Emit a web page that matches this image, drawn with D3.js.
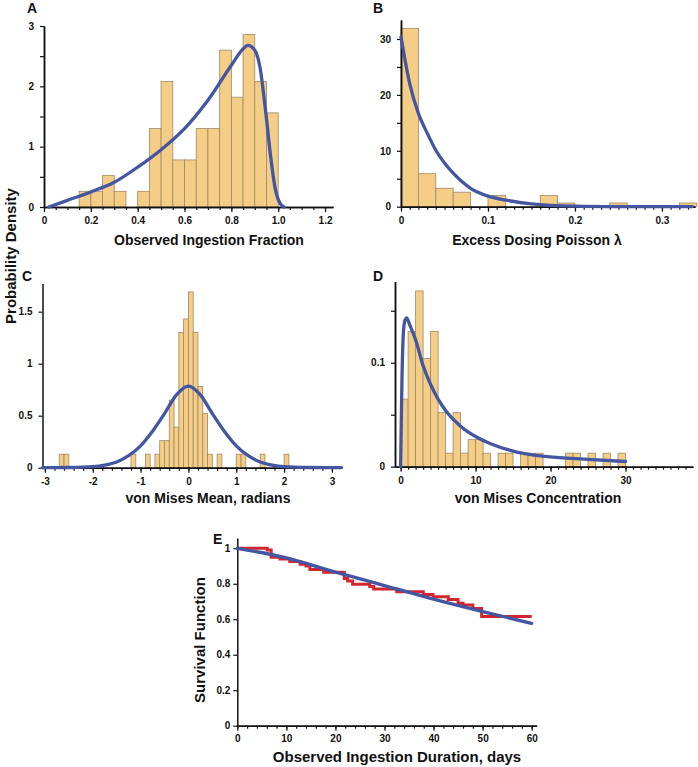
<!DOCTYPE html>
<html>
<head>
<meta charset="utf-8">
<script src="https://cdn.jsdelivr.net/npm/d3@7"></script>
<style>
    body { margin: 0; background: #fff; }
    svg text { font-family: "Liberation Sans", Arial, sans-serif; font-weight: bold; fill: #111; }
</style>
</head>
<body>
<div id="chart"></div>
<script>
// A - observed ingestion fraction (bin width 0.05)
var fracBinStart = [0.15, 0.2, 0.25, 0.3, 0.4, 0.45, 0.5, 0.55, 0.6, 0.65, 0.7, 0.75, 0.8, 0.85, 0.9, 0.95];
var fracDensity = [0.26, 0.26, 0.52, 0.26, 0.26, 1.3, 2.08, 0.78, 0.78, 1.3, 1.3, 2.6, 1.82, 2.86, 2.08, 1.56];
var fracFitX = [0.02, 0.1, 0.2, 0.3, 0.4, 0.5, 0.6, 0.7, 0.8, 0.85, 0.87, 0.9, 0.922, 0.946, 0.968, 0.986, 1.008, 1.025];
var fracFitY = [0, 0.11, 0.25, 0.41, 0.66, 0.95, 1.3, 1.77, 2.35, 2.62, 2.68, 2.6, 2.32, 1.6, 0.83, 0.33, 0.06, 0];

// B - excess dosing poisson lambda (bin width 0.02)
var lamBinStart = [0, 0.02, 0.04, 0.06, 0.1, 0.16, 0.18, 0.24, 0.32];
var lamDensity = [31.9, 5.9, 3.3, 2.6, 2.0, 2.0, 0.66, 0.66, 0.66];
var lamFitX = [0, 0.01, 0.02, 0.03, 0.04, 0.05, 0.06, 0.08, 0.1, 0.12, 0.15, 0.2, 0.25, 0.335];
var lamFitY = [30.4, 22, 16.7, 13.2, 10.1, 7.8, 6.0, 3.3, 1.9, 1.2, 0.5, 0.1, 0.02, 0];

// C - von Mises mean (bin width 0.1)
var muBinStart = [-2.7, -2.6, -1.2, -0.9, -0.7, -0.6, -0.5, -0.4, -0.3, -0.2, -0.1, 0, 0.1, 0.2, 0.3, 0.4, 0.6, 1.0, 1.1, 1.5, 2.0];
var muDensity = [0.13, 0.13, 0.13, 0.13, 0.13, 0.26, 0.26, 0.65, 0.39, 1.3, 1.43, 1.69, 1.3, 0.78, 0.52, 0.13, 0.13, 0.13, 0.13, 0.13, 0.13];
var muFitX = [-3.05, -2.5, -2, -1.75, -1.5, -1.25, -1, -0.75, -0.5, -0.25, 0, 0.25, 0.5, 0.75, 1, 1.25, 1.5, 1.75, 2, 2.5, 3.2];
var muFitY = [0, 0.002, 0.01, 0.025, 0.055, 0.115, 0.21, 0.35, 0.52, 0.7, 0.785, 0.7, 0.52, 0.35, 0.21, 0.115, 0.055, 0.025, 0.01, 0.002, 0];

// D - von Mises concentration (bin width 1)
var kapBinStart = [0, 1, 2, 3, 4, 5, 6, 7, 8, 9, 10, 11, 13, 14, 16, 17, 18, 22, 23, 25, 27, 29];
var kapDensity = [0.065, 0.13, 0.169, 0.104, 0.13, 0.052, 0.013, 0.052, 0.013, 0.026, 0.026, 0.013, 0.013, 0.013, 0.013, 0.013, 0.013, 0.013, 0.013, 0.013, 0.013, 0.013];
var kapFitX = [0, 0.05, 0.1, 0.18, 0.36, 0.58, 0.8, 1.24, 1.69, 2, 3, 4, 5, 6, 8, 10, 12, 15, 18, 20, 25, 30];
var kapFitY = [0, 0.025, 0.05, 0.083, 0.128, 0.141, 0.143, 0.136, 0.128, 0.122, 0.097, 0.079, 0.065, 0.054, 0.039, 0.029, 0.022, 0.015, 0.011, 0.0095, 0.007, 0.005];

// E - survival (Kaplan-Meier steps + fitted curve)
var kmDays = [0, 6.1, 6.9, 8.7, 10.7, 12.8, 14, 14.8, 17.6, 21.8, 22.5, 23.5, 27, 27.8, 32.5, 37.9, 39.9, 43, 45, 46, 48, 49.8, 60];
var kmSurv = [1, 0.99, 0.95, 0.94, 0.925, 0.91, 0.9, 0.88, 0.865, 0.83, 0.815, 0.797, 0.784, 0.77, 0.755, 0.74, 0.727, 0.712, 0.69, 0.68, 0.66, 0.615, 0.615];
var survFitX = [0, 10, 20, 30, 40, 50, 60];
var survFitY = [1, 0.946, 0.866, 0.79, 0.713, 0.643, 0.577];

var barFill = '#f4ce87', barStroke = '#a08866', blue = '#4456a2', red = '#d2262c';

var svg = d3.select('#chart')
    .append('svg')
    .attr('width', 698)
    .attr('height', 767);

function zip(xs, ys) {
    return xs.map(function (v, i) { return [v, ys[i]]; });
}

function styleAxis(g) {
    g.select('.domain').attr('stroke', '#111').attr('stroke-width', 1.5);
    g.selectAll('.tick line').attr('stroke', '#111').attr('stroke-width', 1.2);
    g.selectAll('.tick text').attr('font-size', 10).attr('font-family', null).attr('fill', '#111');
}

function drawPanel(p) {
    var x = d3.scaleLinear().domain(p.xDomain).range(p.xRange);
    var y = d3.scaleLinear().domain(p.yDomain).range(p.yRange);
    var g = svg.append('g');

    // histogram bars
    if (p.binStart) {
        g.selectAll('rect')
            .data(p.binStart)
            .enter()
            .append('rect')
            .attr('x', d => x(d))
            .attr('width', d => x(d + p.binWidth) - x(d))
            .attr('y', (d, i) => y(p.density[i]))
            .attr('height', (d, i) => y(0) - y(p.density[i]))
            .attr('fill', barFill)
            .attr('stroke', barStroke)
            .attr('stroke-width', 0.8);
    }

    // minor ticks
    if (p.xMinor) {
        g.append('g')
            .attr('transform', 'translate(0,' + p.yRange[0] + ')')
            .call(d3.axisBottom(x).tickValues(p.xMinor).tickFormat('').tickSize(3).tickSizeOuter(0))
            .call(styleAxis);
    }
    if (p.yMinor) {
        g.append('g')
            .attr('transform', 'translate(' + p.xRange[0] + ',0)')
            .call(d3.axisLeft(y).tickValues(p.yMinor).tickFormat('').tickSize(4).tickSizeOuter(0))
            .call(styleAxis);
    }

    // main axes
    g.append('g')
        .attr('transform', 'translate(0,' + p.yRange[0] + ')')
        .call(d3.axisBottom(x).tickValues(p.xTicks).tickFormat((d, i) => p.xLabels[i])
            .tickSize(5).tickSizeOuter(0).tickPadding(p.xPad || 5))
        .call(styleAxis);
    g.append('g')
        .attr('transform', 'translate(' + p.xRange[0] + ',0)')
        .call(d3.axisLeft(y).tickValues(p.yTicks).tickFormat((d, i) => p.yLabels[i])
            .tickSize(4).tickSizeOuter(0).tickPadding(p.yPad || 6))
        .call(styleAxis);

    // step line (survival)
    if (p.steps) {
        g.append('path')
            .datum(p.steps)
            .attr('d', d3.line().x(d => x(d[0])).y(d => y(d[1])).curve(d3.curveStepAfter))
            .attr('fill', 'none')
            .attr('stroke', red)
            .attr('stroke-width', 3);
    }

    // fitted curve
    g.append('path')
        .datum(p.fit)
        .attr('d', d3.line().x(d => x(d[0])).y(d => y(d[1])).curve(d3.curveMonotoneX))
        .attr('fill', 'none')
        .attr('stroke', blue)
        .attr('stroke-width', 3.3)
        .attr('stroke-linecap', 'round');

    // panel letter + axis title
    g.append('text')
        .attr('x', p.letterPos[0]).attr('y', p.letterPos[1])
        .attr('font-size', 14)
        .text(p.letter);
    g.append('text')
        .attr('x', p.titlePos[0]).attr('y', p.titlePos[1])
        .attr('text-anchor', 'middle')
        .attr('font-size', p.titleSize || 14)
        .text(p.title);
}

drawPanel({
    letter: 'A', letterPos: [27, 13],
    title: 'Observed Ingestion Fraction', titlePos: [209, 245],
    xDomain: [0, 1.234], xRange: [44, 333],
    yDomain: [0, 3], yRange: [207, 26],
    xTicks: [0, 0.2, 0.4, 0.6, 0.8, 1.0, 1.2], xLabels: ['0', '0.2', '0.4', '0.6', '0.8', '1.0', '1.2'],
    yTicks: [0, 1, 2, 3], yLabels: ['0', '1', '2', '3'],
    xMinor: d3.range(0, 1.23, 0.05), yMinor: [0.5, 1.5, 2.5],
    binStart: fracBinStart, density: fracDensity, binWidth: 0.05,
    fit: zip(fracFitX, fracFitY)
});

drawPanel({
    letter: 'B', letterPos: [373, 13],
    title: 'Excess Dosing Poisson λ', titlePos: [537, 245],
    xDomain: [0, 0.338], xRange: [401, 695],
    yDomain: [0, 33.4], yRange: [206.7, 20],
    xTicks: [0, 0.1, 0.2, 0.3], xLabels: ['0', '0.1', '0.2', '0.3'],
    yTicks: [0, 10, 20, 30], yLabels: ['0', '10', '20', '30'],
    xMinor: d3.range(0, 0.335, 0.01), yMinor: [5, 15, 25],
    binStart: lamBinStart, density: lamDensity, binWidth: 0.02,
    fit: zip(lamFitX, lamFitY)
});

drawPanel({
    letter: 'C', letterPos: [22, 281],
    title: 'von Mises Mean, radians', titlePos: [208, 503],
    xDomain: [-3.05, 3.2], xRange: [42.5, 341.5],
    yDomain: [0, 1.77], yRange: [467.7, 283.6],
    xTicks: [-3, -2, -1, 0, 1, 2, 3], xLabels: ['-3', '-2', '-1', '0', '1', '2', '3'],
    yTicks: [0, 0.5, 1, 1.5], yLabels: ['0', '0.5', '1', '1.5'],
    xMinor: d3.range(-3, 3.19, 0.2),
    binStart: muBinStart, density: muDensity, binWidth: 0.1,
    fit: zip(muFitX, muFitY)
});

drawPanel({
    letter: 'D', letterPos: [373, 281],
    title: 'von Mises Concentration', titlePos: [538, 503],
    xDomain: [-0.75, 39], xRange: [395, 693],
    yDomain: [0, 0.178], yRange: [466.7, 281.6],
    xTicks: [0, 10, 20, 30], xLabels: ['0', '10', '20', '30'],
    yTicks: [0, 0.1], yLabels: ['0', '0.1'],
    xMinor: d3.range(0, 39, 1), yMinor: [0.05, 0.15],
    binStart: kapBinStart, density: kapDensity, binWidth: 1,
    fit: zip(kapFitX, kapFitY)
});

drawPanel({
    letter: 'E', letterPos: [213, 544],
    title: 'Observed Ingestion Duration, days', titlePos: [397, 762], titleSize: 15,
    xDomain: [0, 61], xRange: [237.3, 536.6],
    yDomain: [0, 1.058], yRange: [725.7, 538],
    xTicks: [0, 10, 20, 30, 40, 50, 60], xLabels: ['0', '10', '20', '30', '40', '50', '60'],
    yTicks: [0, 0.2, 0.4, 0.6, 0.8, 1], yLabels: ['0', '0.2', '0.4', '0.6', '0.8', '1'],
    xMinor: d3.range(0, 61, 2), xPad: 4, yPad: 3,
    steps: zip(kmDays, kmSurv),
    fit: zip(survFitX, survFitY)
});

// shared y titles
svg.append('text')
    .attr('transform', 'translate(16,256) rotate(-90)')
    .attr('text-anchor', 'middle')
    .attr('font-size', 15)
    .text('Probability Density');

svg.append('text')
    .attr('transform', 'translate(205,640) rotate(-90)')
    .attr('text-anchor', 'middle')
    .attr('font-size', 15)
    .text('Survival Function');
</script>
</body>
</html>
